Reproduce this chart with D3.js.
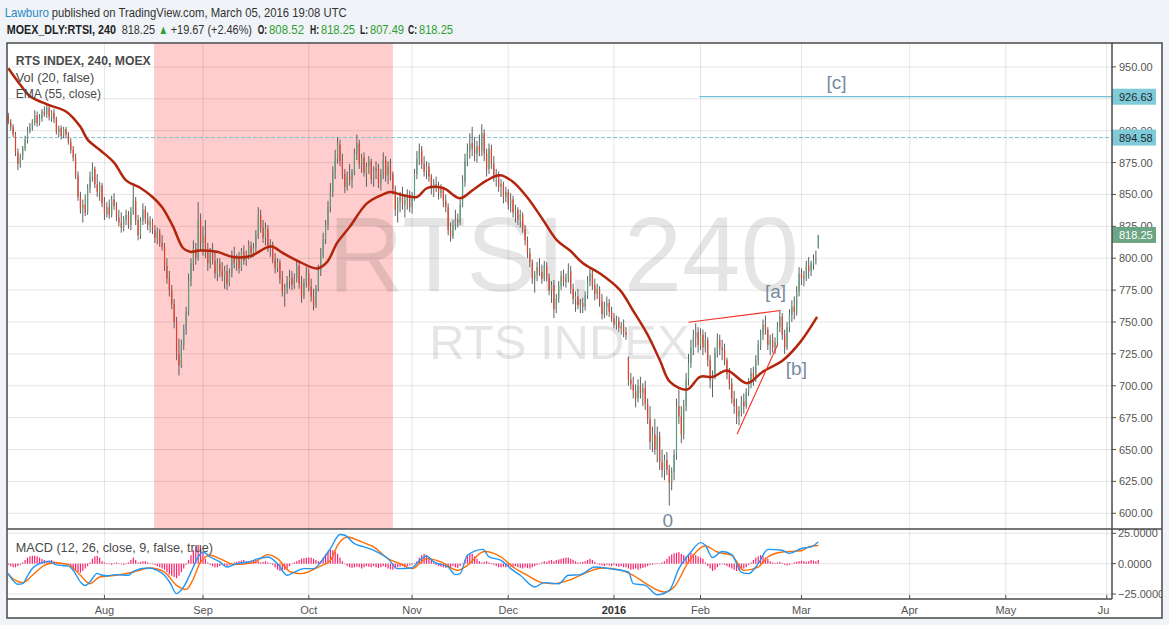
<!DOCTYPE html>
<html><head><meta charset="utf-8"><title>RTSI 240</title>
<script src="https://cdn.jsdelivr.net/npm/d3@7/dist/d3.min.js"></script>
<style>
html,body{margin:0;padding:0;background:#f0f3f7;overflow:hidden}
svg{display:block}
text{font-family:"Liberation Sans",Arial,sans-serif}
</style></head><body>
<svg id="chart" width="1169" height="625"></svg>
<script>
// ---------------- DATA ----------------
// 240-minute bars: [open, high, low, close]
const bars = [
[912,914,905,907],[907,909,900,903],[903,905,895,897],[897,899,880,883],[883,886,869,874],
[874,882,871,880],[880,888,877,886],[886,896,884,893],[893,903,890,900],[900,906,898,903],
[903,909,900,906],[906,916,904,912],[912,915,903,906],[906,913,904,910],[910,917,907,915],
[915,919,911,913],[913,921,910,918],[918,920,908,911],[911,916,907,914],[914,917,906,909],
[909,911,897,899],[899,904,895,902],[902,904,893,896],[896,903,894,901],[901,903,894,897],
[897,899,889,891],[891,894,882,885],[885,888,876,879],[879,882,862,865],[865,868,845,848],
[848,852,835,839],[839,846,828,842],[842,850,833,836],[836,858,834,855],[855,868,851,864],
[864,875,860,870],[870,872,855,858],[858,866,848,852],[852,860,845,857],[857,859,840,843],
[843,848,830,835],[835,844,832,840],[840,846,831,834],[834,849,832,846],[846,851,838,841],
[841,844,829,832],[832,838,825,828],[828,836,820,824],[824,833,821,830],[830,838,826,834],
[834,837,823,826],[826,840,822,836],[836,859,834,845],[845,848,826,830],[830,834,814,818],
[818,832,815,829],[829,843,826,838],[838,841,827,831],[831,836,822,826],[826,833,820,829],
[829,831,819,822],[822,826,812,816],[816,824,811,820],[820,823,809,812],[812,818,806,809],
[809,812,790,794],[794,800,780,784],[784,790,770,775],[775,779,760,764],[764,768,745,750],
[750,754,720,725],[725,737,708,716],[716,736,714,732],[732,748,728,744],[744,762,740,758],
[758,788,755,782],[782,800,778,796],[796,814,790,808],[808,812,795,800],[800,844,798,830],
[830,835,806,812],[812,825,802,818],[818,830,800,805],[805,812,790,796],[796,808,792,804],
[804,812,795,798],[798,806,784,788],[788,800,782,796],[796,800,785,790],[790,797,782,786],
[786,794,776,790],[790,795,775,780],[780,792,778,788],[788,806,785,802],[802,809,792,796],
[796,803,790,800],[800,805,788,792],[792,808,790,805],[805,810,795,798],[798,806,794,802],
[802,814,799,810],[810,813,800,804],[804,812,801,808],[808,822,805,818],[818,840,815,834],
[834,838,820,824],[824,830,812,816],[816,828,810,823],[823,826,805,808],[808,815,801,811],
[811,813,796,799],[799,804,788,792],[792,800,789,797],[797,799,780,784],[784,790,770,774],
[774,780,762,777],[777,786,772,782],[782,791,776,785],[785,790,775,779],[779,788,776,784],
[784,799,781,794],[794,797,776,780],[780,786,765,770],[770,784,768,781],[781,793,777,788],
[788,792,774,778],[778,784,766,770],[770,776,759,763],[763,779,761,776],[776,795,774,790],
[790,808,786,803],[803,820,800,815],[815,830,811,826],[826,845,822,840],[840,859,836,852],
[852,872,848,868],[868,885,862,878],[878,895,874,889],[889,893,872,876],[876,882,862,866],
[866,870,851,856],[856,868,853,864],[864,874,857,861],[861,870,855,868],[868,886,865,882],
[882,897,877,890],[890,893,870,874],[874,882,867,879],[879,883,864,867],[867,875,856,872],
[872,880,866,876],[876,878,858,862],[862,872,856,868],[868,876,862,871],[871,874,855,859],
[859,870,853,866],[866,883,862,877],[877,880,860,865],[865,876,858,872],[872,878,861,866],
[866,868,850,854],[854,857,833,838],[838,848,828,844],[844,852,836,848],[848,856,838,842],
[842,850,832,846],[846,854,838,850],[850,853,836,840],[840,852,835,848],[848,870,845,866],
[866,884,862,878],[878,890,873,885],[885,888,870,874],[874,880,864,868],[868,876,862,872],
[872,875,860,864],[864,866,850,855],[855,862,848,858],[858,864,852,856],[856,860,846,851],
[851,858,847,854],[854,856,840,845],[845,850,836,840],[840,843,818,822],[822,828,813,817],
[817,830,815,826],[826,838,822,830],[830,835,824,828],[828,846,826,842],[842,865,840,860],
[860,882,856,876],[876,890,872,884],[884,898,878,890],[890,903,880,886],[886,895,876,882],
[882,892,875,888],[888,897,880,884],[884,905,880,898],[898,901,876,882],[882,886,864,870],
[870,890,866,886],[886,889,870,874],[874,880,860,864],[864,870,856,866],[866,868,852,856],
[856,862,848,858],[858,860,843,848],[848,856,844,852],[852,854,838,842],[842,851,836,846],
[846,849,832,836],[836,842,828,838],[838,840,826,830],[830,838,824,834],[834,836,820,823],
[823,826,810,814],[814,817,800,804],[804,808,793,797],[797,799,780,784],[784,790,773,787],
[787,797,782,793],[793,800,786,789],[789,795,780,784],[784,798,782,794],[794,797,782,785],
[785,788,771,775],[775,782,765,779],[779,783,753,760],[760,772,757,768],[768,782,765,778],
[778,790,775,786],[786,791,778,781],[781,788,777,785],[785,796,781,790],[790,794,772,776],
[776,780,764,768],[768,774,758,770],[770,776,760,763],[763,768,757,765],[765,769,757,762],
[762,774,759,771],[771,786,768,782],[782,793,778,788],[788,791,775,779],[779,784,767,772],
[772,780,768,776],[776,778,762,766],[766,772,752,756],[756,766,753,762],[762,770,755,765],
[765,768,754,758],[758,762,750,753],[753,757,745,748],[748,755,744,751],[751,754,742,745],
[745,750,740,747],[747,752,738,742],[742,746,736,740],[722,723,700,705],[705,710,697,701],
[701,707,690,696],[696,701,683,690],[690,705,687,700],[700,707,690,694],[694,702,684,698],
[698,704,681,686],[686,690,670,674],[674,684,650,656],[656,668,648,662],[662,674,646,650],
[650,668,640,660],[660,664,634,640],[640,650,628,634],[634,646,626,642],[642,648,630,634],
[634,638,606,624],[624,636,618,632],[632,650,626,646],[646,690,642,684],[684,697,670,676],
[676,684,655,662],[662,689,658,684],[684,710,680,705],[705,725,700,718],[718,736,714,730],
[730,744,724,738],[738,749,730,742],[742,746,726,732],[732,745,728,740],[740,744,724,730],
[730,742,726,736],[736,738,715,720],[720,724,698,704],[704,712,691,708],[708,730,705,726],
[726,741,722,736],[736,740,724,730],[730,736,720,728],[728,733,716,720],[720,722,705,709],
[709,714,697,702],[702,706,686,690],[690,696,678,684],[684,690,670,676],[676,684,669,680],
[680,692,676,688],[688,694,678,684],[684,698,682,695],[695,706,692,702],[702,714,698,710],
[710,715,700,706],[706,724,703,720],[720,736,716,732],[732,744,728,740],[740,752,736,748],
[748,755,740,744],[744,746,728,732],[732,740,724,736],[736,741,726,730],[730,738,725,734],
[734,750,731,746],[746,759,742,754],[754,757,736,740],[740,744,725,730],[730,750,728,746],
[746,760,742,756],[756,767,750,762],[762,770,752,758],[758,778,755,774],[774,793,770,788],
[788,792,779,784],[784,790,778,786],[786,798,782,794],[794,801,784,790],[790,798,786,796],
[796,803,791,799],[799,806,795,798.58],[808.52,818.25,807.49,818.25]
];
// EMA(55, close): [bar index, value]
const emaPts = [[0,949],[5,936],[9,927],[17,920],[24,915],[30,903],[33,893],[38,885],[44,875],
[49,861],[55,855],[60,848],[64,840],[68.5,825],[72.7,808],[75.6,805],[79.7,806],[86.8,805],
[93.5,801],[100.5,801.5],[107.6,808.5],[110,809],[114.3,804],[121.4,797],[128.4,792],[132.6,797],
[136.8,812],[142.2,825],[149.2,843],[155.9,850],[158.8,852],[163,850],[170,848],[174.2,855],
[180.9,855],[187.9,847],[193.3,853.5],[199.1,861],[204.6,865],[209.9,860],[215.8,848],[222.5,830],
[228.3,814],[233.7,806],[239.1,796],[246.2,788],[254.5,775],[259.9,759],[265.7,741],[271.1,720],
[275.3,703],[282.4,697],[287.8,707],[293.2,707],[299,712],[307.3,702],[313.9,711],[322.3,720],
[329.4,734],[336.5,754]];
// MACD (12,26,close,9): MACD line and signal line [bar index, value]
const macdPts = [[0,-8],[2,-14],[4,-17],[6,-16.5],[8,-10],[10,-4],[13,0],[17,2],[20,-1],[25,-2],
[27,-5.5],[30,-15],[32,-18],[34,-15],[37,-8],[39,-9.6],[41,-10],[45,-9],[50,-9.6],[52,-6.3],
[58,-3.6],[62,-5.5],[65,-9.6],[67.5,-16.5],[70,-24.7],[73,-19],[76,-7],[79,5.5],[81,9.6],[84,5.5],
[88,1.4],[91,-2.8],[95,0],[100,1.4],[104,4.1],[108,5.5],[112,0],[116,-9.6],[119,-7],[123,-4.1],
[127,-4.1],[130,1.4],[134,12.4],[138,24],[140,23.4],[144,16.5],[148,13.8],[152,11],[158,4.1],
[162,-4.1],[167.5,-3.6],[172,4.1],[174,6.3],[177,1.4],[183,-2.8],[186,-9],[188,-8.2],[191,6.9],
[197.5,11.8],[200,5.5],[205,2.7],[209,-4.1],[213,-9.6],[219,-19.2],[223,-15.6],[229,-16.5],
[233,-9.6],[238,-9],[244,-2.8],[250,-4.1],[258,-6.9],[260,-16.5],[265,-17.9],[270,-25.6],
[275,-22],[279,-4.1],[284,9.6],[288,17.3],[290,15.1],[293,5],[297,10],[301,7.4],[305,-6.9],
[308,-8.2],[312,0],[316,11.8],[322,11],[325,8.5],[330,12.5],[334,13.8],[337,17.8]];
const signalPts = [[0,-9],[3,-13.8],[6,-15.6],[10,-9.6],[15,-1.4],[19,0.8],[25,-0.8],[30,-9.6],
[34,-16.5],[38,-11],[45,-9.6],[52,-6.9],[59,-3.6],[65,-6.9],[70,-17.9],[74,-21.2],[77,-12.4],
[80,1.4],[84,6.9],[88,4.1],[94,-0.8],[102,0.8],[108,7.4],[112,4.1],[117.5,-6.9],[122,-8.2],
[129,-2.8],[134,2.7],[137,15.1],[141,22],[147,17.9],[152,13.8],[158,4.1],[163,0],[168,-4.1],
[174,4.1],[180,1.4],[187,-5.5],[191,-1.4],[198,10],[205,5.5],[210,-2.8],[216,-9.6],[222,-15.6],
[227,-16.5],[233,-13.8],[241,-6.9],[247,-3.6],[255,-5.5],[260,-9.6],[266,-17.3],[273,-23.4],
[277,-19.2],[283,1.4],[290,14.6],[295,9.6],[301,6.9],[306,-5.5],[312,-2.8],[316,5.5],[322,9.6],
[330,10.6],[333,13.8],[337,15]];
// MACD histogram, one value per bar
const hist = [
-1,-2,-3,-3,-2,-1,1,3,5,6,
6.5,6.5,6,5,4,3,2,2,3,2,
1.5,1,0.5,0,-0.5,-1,-3,-5,-6,-7,
-7.5,-6,-4,-2,1,4,6,6.5,5,2,
1,0.5,-0.5,-1,0.5,1,0.5,-0.5,-1,0.5,
1,3,5,3,1,1.5,2,2,1,0.5,
-0.5,-1,-2,-3,-4,-5,-7,-9,-10,-11,
-12,-10,-7,-4,-1,3,7,11,14,15.5,
13,9,4,1,-1,-2,-3,-3,-2,-1,
-1.5,-2,-1,0.5,1,1.5,2,2.5,3,2,
1.5,2,3,3,2,1,1.5,2,1,0.5,
-1,-3,-5,-6,-6,-5,-4,-2,0,1,
2,3,4,4.5,5,5,5,4,3,2,
2,5,8,10,11.5,11,10,8,5,2,
0,-2,-3,-3.5,-3,-2.5,-3,-4,-3,-2,
-2.5,-3,-2,-3,-3.5,-3,-2,-3,-4,-4.5,
-5,-4,-3,-2.5,-2,-3,-2,-1.5,-1,0.5,
2,5,7,8,7,5,3,1,-1,-2,
-2.5,-3,-3.5,-3,-3,-2,-3,-3.5,-2,0,
3,7,8.5,8,6,4,2,1,1.5,2,
1,0.5,-1,-2,-3,-3,-2.5,-3,-2,-2.5,
-3,-2,-3,-3.5,-4,-3,-3.5,-4,-3,-2,
-1,0,1,2,1.5,2.5,3,2,3,3.5,
4,4.5,5,5,4,3,2,1,1,1.5,
2,3,4,3,1.5,0,-1,-1.5,-2,-1,
-1.5,-2,-1,-2,-2.5,-2,-3,-3,-4,-5,
-4.5,-4,-5,-4,-3.5,-3,-2,-1,-1,0,
0.5,0,1,2,4,6,7.5,8.5,9,9.5,
8,7,6,8,9,8,7,6,5,4,
1,-2,-4,-6,-5,-3,-1,-0.5,-1,-2,
-3,-4,-5,-6,-5.5,-5,-4,-3,-1,1,
3,5,6,7,6,5,4,2,1,0.5,
1,1.5,0.5,-1,-1.5,-1,-0.5,1,1.5,2,
2.5,2,1.5,2,3,2.5,2,3];
const priceTicks = [600,625,650,675,700,725,750,775,800,825,850,875,900,925,950];
const macdTicks = [-25,0,25];
const monthLabels = ["Aug","Sep","Oct","Nov","Dec","2016","Feb","Mar","Apr","May","Jun"];
const monthBars   = [40,81,125,168,208,252,288,330,375,415,457];
const shadeRange = [60.6,160];             // highlighted period, in bar index
const levelC = 926.63, levelC_from = 287.5; // [c] target line
const levelDash = 894.58;
const lastClose = 818.25;
const trendLines = [[[283,749.8],[321.3,759]],[[303.2,662],[320,732]]];
const waveLabels = [{t:"[c]",bar:340.4,v:932.3},{t:"[a]",bar:314.8,v:768.9},{t:"[b]",bar:323.5,v:708.8},{t:"0",bar:274.4,v:589.3,mid:true}];
// header pieces: [text, x, width, bold, colour]
const G="#2ea02e";
const header1 = [["Lawburo",4.7,44.3,false,"#2a8bc6"],["published on TradingView.com, March 05, 2016 19:08 UTC",51.7,295,false,"#333"]];
const header2 = [["MOEX_DLY:RTSI, 240",6.7,109.3,true,"#222"],["818.25",121.7,33.3,false,"#333"],["\u25B2",158.6,9.5,false,G],
 ["+19.67 (+2.46%)",170.7,81.3,false,"#333"],["O:",257.7,9.3,true,"#222"],["808.52",269,35,false,G],
 ["H:",310,9,true,"#222"],["818.25",321,34,false,G],["L:",360,8,true,"#222"],["807.49",370,34,false,G],
 ["C:",408,9,true,"#222"],["818.25",419,34,false,G]];

// ---------------- DRAW ----------------
const svg = d3.select("#chart");
const L=7,T=43,R=1112,B=529,MB=599,RR=1162,BB=618;
const x  = d3.scaleLinear().domain([0,bars.length-1]).range([8.3,818.3]);
const y  = d3.scaleLinear().domain([600,950]).range([513.3,66.9]);
const ym = d3.scaleLinear().domain([-25,25]).range([594,533.3]);
const defs = svg.append("defs");
function clip(id,x0,y0,w,h){defs.append("clipPath").attr("id",id).append("rect").attr("x",x0).attr("y",y0).attr("width",w).attr("height",h);}
clip("cMain",L,T,R-L,B-T); clip("cMacd",L,B,R-L,MB-B); clip("cRight",R,T,RR-R,MB-T); clip("cTime",L,MB,R-2-L,BB-MB);

function txt(g,xx,yy,s,o={}){
  const t=g.append("text").attr("x",xx).attr("y",yy).text(s)
    .attr("font-size",o.size||13).attr("fill",o.fill||"#333");
  if(o.bold) t.attr("font-weight","bold");
  if(o.len) t.attr("textLength",o.len).attr("lengthAdjust","spacingAndGlyphs");
  if(o.anchor) t.attr("text-anchor",o.anchor);
  return t;
}
function line1(g,yy,parts){
  const t=g.append("text").attr("y",yy).attr("font-size",13);
  parts.forEach(p=>{
    t.append("tspan").attr("x",p[1]).attr("textLength",p[2]).attr("lengthAdjust","spacingAndGlyphs")
     .attr("font-weight",p[3]?"bold":"normal").attr("fill",p[4]).text(p[0]);
  });
}

svg.append("rect").attr("x",L).attr("y",T).attr("width",RR-L).attr("height",BB-T).attr("fill","#fff");

// ---- main pane
const main = svg.append("g").attr("clip-path","url(#cMain)");
main.append("rect").attr("x",x(shadeRange[0])).attr("y",T)
  .attr("width",x(shadeRange[1])-x(shadeRange[0])).attr("height",B-T).attr("fill","#ffcdcd");
const cx=(L+R)/2;
main.append("text").attr("x",cx+4).attr("y",291).attr("text-anchor","middle").attr("font-size",105)
  .attr("fill","rgba(0,0,0,0.1)").text("RTSI, 240");
main.append("text").attr("x",cx).attr("y",359).attr("text-anchor","middle").attr("font-size",49)
  .attr("fill","rgba(0,0,0,0.1)").text("RTS INDEX");
main.selectAll("line.hg").data(priceTicks).join("line").attr("class","hg")
  .attr("x1",L).attr("x2",R).attr("y1",d=>y(d)).attr("y2",d=>y(d)).attr("stroke","rgba(0,0,0,0.1)");
main.selectAll("line.vg").data(monthBars).join("line").attr("class","vg")
  .attr("x1",d=>x(d)).attr("x2",d=>x(d)).attr("y1",T).attr("y2",B).attr("stroke","rgba(0,0,0,0.1)");
main.append("line").attr("x1",L).attr("x2",R).attr("y1",y(levelDash)).attr("y2",y(levelDash))
  .attr("stroke","#7ec3cf").attr("stroke-dasharray","4,2");
main.append("line").attr("x1",x(levelC_from)).attr("x2",R).attr("y1",y(levelC)).attr("y2",y(levelC))
  .attr("stroke","#6fc4d2").attr("stroke-width",1.2);

const gb = main.append("g");
gb.selectAll("line.wick").data(bars).join("line").attr("class","wick")
  .attr("x1",(d,i)=>x(i)).attr("x2",(d,i)=>x(i)).attr("y1",d=>y(d[1])).attr("y2",d=>y(d[2]))
  .attr("stroke","#5f5f5f").attr("stroke-width",1);
gb.selectAll("rect.body").data(bars).join("rect").attr("class","body")
  .attr("x",(d,i)=>x(i)-0.6).attr("width",1.2)
  .attr("y",d=>y(Math.max(d[0],d[3])))
  .attr("height",d=>Math.max(0.8,Math.abs(y(d[0])-y(d[3]))))
  .attr("fill",d=>d[3]>=d[0]?"#5c9f7c":"#ea3f2a");

main.append("path").datum(emaPts)
  .attr("d",d3.line().x(d=>x(d[0])).y(d=>y(d[1])).curve(d3.curveCatmullRom.alpha(0.5)))
  .attr("fill","none").attr("stroke","#b1260c").attr("stroke-width",2.5);

main.selectAll("line.tl").data(trendLines).join("line").attr("class","tl")
  .attr("x1",d=>x(d[0][0])).attr("y1",d=>y(d[0][1])).attr("x2",d=>x(d[1][0])).attr("y2",d=>y(d[1][1]))
  .attr("stroke","#f2312a").attr("stroke-width",1.1);

main.selectAll("text.wl").data(waveLabels).join("text").attr("class","wl")
  .attr("x",d=>x(d.bar)).attr("y",d=>y(d.v)).attr("text-anchor",d=>d.mid?"middle":"start")
  .attr("font-size",19).attr("fill","#7889a0").text(d=>d.t);

txt(main,15.7,65,"RTS INDEX, 240, MOEX",{bold:true,fill:"#4a4a4a",len:135});
txt(main,15.7,81.5,"Vol (20, false)",{fill:"#4a4a4a",len:78.6});
txt(main,15.7,98,"EMA (55, close)",{fill:"#4a4a4a",len:85.3});

// ---- MACD pane
const mp = svg.append("g").attr("clip-path","url(#cMacd)");
mp.selectAll("line.hg").data(macdTicks).join("line").attr("class","hg")
  .attr("x1",L).attr("x2",R).attr("y1",d=>ym(d)).attr("y2",d=>ym(d)).attr("stroke","rgba(0,0,0,0.1)");
mp.selectAll("line.vg").data(monthBars).join("line").attr("class","vg")
  .attr("x1",d=>x(d)).attr("x2",d=>x(d)).attr("y1",B).attr("y2",MB).attr("stroke","rgba(0,0,0,0.1)");
mp.selectAll("rect.h").data(hist).join("rect").attr("class","h")
  .attr("x",(d,i)=>x(i)-0.6).attr("width",1.2)
  .attr("y",d=>ym(Math.max(0,d))).attr("height",d=>Math.max(0.6,Math.abs(ym(d)-ym(0))))
  .attr("fill","#f7216d");
const ml = d3.line().x(d=>x(d[0])).y(d=>ym(d[1])).curve(d3.curveMonotoneX);
mp.append("path").datum(signalPts).attr("d",ml).attr("fill","none").attr("stroke","#ff6d00").attr("stroke-width",1.4);
mp.append("path").datum(macdPts).attr("d",ml).attr("fill","none").attr("stroke","#2196f3").attr("stroke-width",1.4);
txt(mp,15.7,551.5,"MACD (12, 26, close, 9, false, true)",{fill:"#4a4a4a",len:197.3});

// ---- right price axis
const ra = svg.append("g").attr("clip-path","url(#cRight)");
priceTicks.forEach(v=>{
  ra.append("line").attr("x1",R).attr("x2",R+4).attr("y1",y(v)).attr("y2",y(v)).attr("stroke","#555");
  txt(ra,R+7,y(v)+4,v.toFixed(2),{size:11,fill:"#555"});
});
[{v:levelC,f:"#80cbd9",c:"#1d2a30"},{v:levelDash,f:"#80cbd9",c:"#1d2a30"},{v:lastClose,f:"#6ca583",c:"#ffffff"}].forEach(b=>{
  ra.append("rect").attr("x",R).attr("y",y(b.v)-8).attr("width",44).attr("height",16).attr("fill",b.f);
  txt(ra,R+7,y(b.v)+4,b.v.toFixed(2),{size:11,fill:b.c});
});
const fm = d3.format(".4f");
macdTicks.forEach(v=>{
  ra.append("line").attr("x1",R).attr("x2",R+4).attr("y1",ym(v)).attr("y2",ym(v)).attr("stroke","#555");
  txt(ra,R+6,ym(v)+4,fm(v),{size:11,fill:"#555"});
});

// ---- time axis
const ta = svg.append("g").attr("clip-path","url(#cTime)");
monthBars.forEach((b,i)=>{
  svg.append("line").attr("x1",x(b)).attr("x2",x(b)).attr("y1",595).attr("y2",MB).attr("stroke","#555");
  txt(ta,x(b),613.5,monthLabels[i],{size:11,fill:monthLabels[i]==="2016"?"#333":"#555",bold:monthLabels[i]==="2016",anchor:"middle"});
});

// ---- frame
const fr = svg.append("g").attr("stroke","#4a4a4a").attr("stroke-width",1.5).attr("fill","none");
fr.append("rect").attr("x",L).attr("y",T).attr("width",RR-L).attr("height",BB-T);
fr.append("line").attr("x1",L).attr("x2",RR).attr("y1",B).attr("y2",B);
fr.append("line").attr("x1",L).attr("x2",R).attr("y1",MB).attr("y2",MB);
fr.append("line").attr("x1",R).attr("x2",R).attr("y1",T).attr("y2",MB);

// ---- header
const hd = svg.append("g");
line1(hd,17,header1);
line1(hd,34,header2);
</script>
</body></html>
